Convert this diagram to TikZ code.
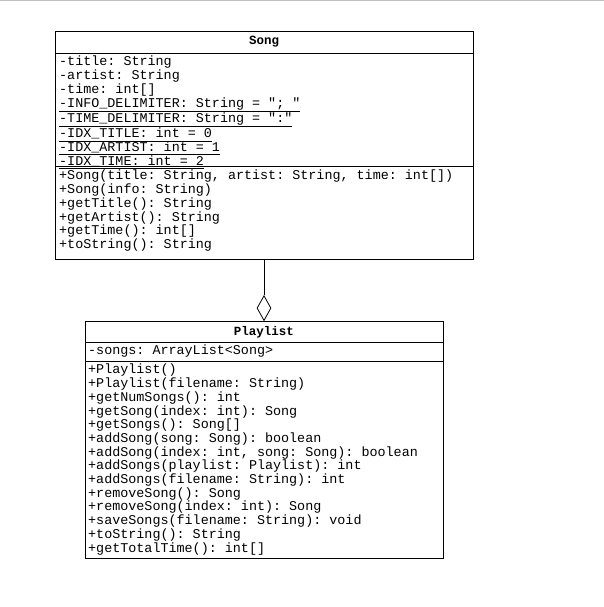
\documentclass[tikz,border=0pt]{standalone}
\usepackage{fontspec}
\usetikzlibrary{shapes.geometric}
\setmonofont{Liberation Mono}
\begin{document}
\begin{tikzpicture}[x=1pt,y=-1pt,
  umlbox/.style={draw=black,line width=0.8pt},
  sep/.style={draw=black,line width=0.8pt},
  ttl/.style={font=\ttfamily\fontsize{12.5}{13}\selectfont\bfseries,inner sep=0},
  txt/.style={font=\ttfamily\fontsize{13.4}{13.7}\selectfont,align=left,inner sep=0,anchor=north west},
  agg/.style={diamond,draw=black,line width=0.8pt,fill=white,minimum width=14pt,minimum height=25pt,inner sep=0}]
\useasboundingbox (0,0) rectangle (604,607);
\fill[white] (0,0) rectangle (604,607);
\draw[gray!50] (0,0.5) -- (604,0.5);
% Song
\draw[umlbox] (55,31) rectangle (473,259);
\node[ttl] (songt) at (264,42) {Song};
\draw[sep] (55,53) -- (473,53);
\draw[sep] (55,166) -- (473,166);
\node[txt] (songa) at (59,56) {-title: String\\-artist: String\\-time: int[]\\
\underline{-INFO\_DELIMITER: String = "; "}\\\underline{-TIME\_DELIMITER: String = ":"}\\
\underline{-IDX\_TITLE: int = 0}\\\underline{-IDX\_ARTIST: int = 1}\\\underline{-IDX\_TIME: int = 2}};
\node[txt] (songm) at (59,170) {+Song(title: String, artist: String, time: int[])\\+Song(info: String)\\
+getTitle(): String\\+getArtist(): String\\+getTime(): int[]\\+toString(): String};
\coordinate (songb) at (264,259);
% Playlist
\draw[umlbox] (85,321) rectangle (443,558);
\node[ttl] (plt) at (264,332) {Playlist};
\draw[sep] (85,342) -- (443,342);
\draw[sep] (85,361) -- (443,361);
\node[txt] (pla) at (88,345) {-songs: ArrayList<Song>};
\node[txt] (plm) at (88,364) {+Playlist()\\+Playlist(filename: String)\\+getNumSongs(): int\\
+getSong(index: int): Song\\+getSongs(): Song[]\\+addSong(song: Song): boolean\\
+addSong(index: int, song: Song): boolean\\+addSongs(playlist: Playlist): int\\
+addSongs(filename: String): int\\+removeSong(): Song\\+removeSong(index: int): Song\\
+saveSongs(filename: String): void\\+toString(): String\\+getTotalTime(): int[]};
\node[agg,anchor=south] (dia) at (264,321) {};
\draw[line width=0.8pt] (songb) -- (dia.north);
\end{tikzpicture}
\end{document}
